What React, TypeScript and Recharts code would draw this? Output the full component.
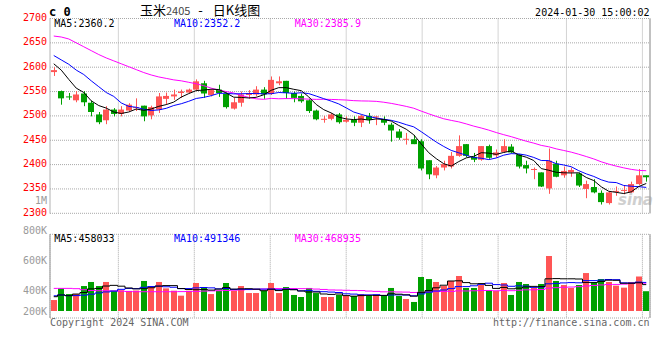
import React from 'react';
import { ComposedChart, Bar, Line, XAxis, YAxis, CartesianGrid, ReferenceLine } from 'recharts';

const DATES = [
  '10-10','10-11','10-12','10-13','10-16','10-17','10-18','10-19','10-20','10-23',
  '10-24','10-25','10-26','10-27','10-30','10-31','11-01','11-02','11-03','11-06',
  '11-07','11-08','11-09','11-10','11-13','11-14','11-15','11-16','11-17','11-20',
  '11-21','11-22','11-23','11-24','11-27','11-28','11-29','11-30','12-01','12-04',
  '12-05','12-06','12-07','12-08','12-11','12-12','12-13','12-14','12-15','12-18',
  '12-19','12-20','12-21','12-22','12-25','12-26','12-27','12-28','12-29','01-02',
  '01-03','01-04','01-05','01-08','01-09','01-10','01-11','01-12','01-15','01-16',
  '01-17','01-18','01-19','01-22','01-23','01-24','01-25','01-26','01-29','01-30',
];

const OPEN = [
  2590,2551,2540,2532,2546,2527,2503,2491,2513,2504,
  2511,2517,2521,2501,2513,2535,2540,2547,2548,2554,
  2567,2543,2554,2545,2515,2527,2543,2544,2554,2545,
  2567,2572,2547,2541,2532,2511,2493,2494,2503,2488,
  2492,2486,2500,2498,2493,2482,2468,2452,2452,2448,
  2409,2378,2394,2396,2418,2442,2416,2410,2438,2419,
  2426,2437,2421,2399,2390,2384,2351,2402,2378,2384,
  2382,2350,2354,2342,2321,2345,2347,2343,2360,2378,
];
const HIGH = [
  2600,2552,2547,2551,2551,2531,2508,2520,2516,2520,
  2526,2536,2521,2521,2547,2548,2554,2554,2556,2575,
  2572,2555,2564,2548,2537,2550,2553,2561,2559,2581,
  2581,2572,2550,2546,2535,2513,2500,2506,2506,2499,
  2499,2502,2506,2500,2499,2486,2473,2465,2461,2452,
  2409,2397,2408,2426,2460,2442,2424,2438,2441,2431,
  2452,2442,2421,2408,2394,2384,2433,2408,2396,2394,
  2384,2367,2370,2347,2344,2355,2358,2365,2391,2378,
];
const LOW = [
  2582,2523,2533,2528,2520,2499,2483,2483,2499,2499,
  2509,2510,2489,2493,2506,2523,2533,2537,2547,2551,
  2537,2540,2539,2515,2513,2519,2535,2540,2535,2543,
  2563,2535,2528,2527,2506,2491,2486,2491,2484,2486,
  2479,2477,2484,2481,2481,2447,2451,2441,2442,2388,
  2370,2372,2388,2392,2416,2415,2405,2408,2412,2414,
  2424,2423,2392,2382,2370,2354,2340,2374,2373,2375,
  2354,2331,2341,2318,2318,2336,2339,2342,2358,2365,
];
const CLOSE = [
  2594,2536,2539,2544,2528,2508,2487,2513,2504,2513,
  2523,2518,2499,2518,2540,2541,2544,2550,2554,2571,
  2546,2553,2547,2518,2528,2544,2547,2554,2544,2574,
  2571,2547,2537,2530,2510,2493,2494,2503,2487,2492,
  2486,2500,2492,2499,2486,2470,2455,2453,2442,2392,
  2380,2394,2401,2418,2438,2418,2410,2438,2414,2425,
  2438,2425,2396,2392,2391,2355,2408,2375,2387,2389,
  2357,2360,2343,2323,2343,2346,2348,2360,2378,2374,
];
const VOLUME = [
  308000,423000,367000,367000,446000,486000,446000,486000,400000,405000,
  398000,402000,496000,446000,486000,423000,400000,351000,400000,476000,
  436000,367000,400000,476000,400000,446000,377000,377000,400000,476000,
  377000,436000,358000,338000,427000,377000,338000,338000,358000,348000,
  348000,367000,348000,358000,348000,427000,348000,318000,289000,535000,
  515000,486000,446000,496000,545000,427000,427000,456000,407000,397000,
  476000,358000,486000,466000,427000,466000,742000,496000,456000,427000,
  456000,574000,486000,515000,486000,450000,430000,485000,540000,395000,
];

// moving-average values at the start of the window
const MA5_HEAD = [2607, 2594, 2575, 2557];
const MA10_HEAD = [2624, 2615, 2606, 2594, 2585, 2572, 2560, 2548, 2540];
const MA30_HEAD = [
  2664,2662,2658,2650,2642,2634,2626,2619,2613,2607,
  2601,2595,2589,2584,2580,2577,2574,2572,2569,2566,
  2562,2557,2553,2550,2547,2542,2538,2535,2534,
];
const VMA5_HEAD = [341000, 358000, 351000, 367000];
const VMA10_HEAD = [350000, 358000, 352000, 352000, 356000, 366000, 378000, 388000, 396000];
const VMA30_HEAD = [
  423000,423000,423000,420000,410000,402000,400000,400000,398000,395000,
  392000,390000,390000,390000,390000,390000,390000,391000,392000,393000,
  396000,398000,400000,402000,405000,408000,411000,414000,417000,
];

const PRICE_TICKS = [2300, 2350, 2400, 2450, 2500, 2550, 2600, 2650, 2700];
const VOL_LABEL_TICKS = [200000, 400000, 600000, 800000, 1000000];
const DATE_TICKS = [0, 9, 19, 29, 39, 49, 59, 68, 78];
const PRICE_LEGEND = ['MA5:2360.2', 'MA10:2352.2', 'MA30:2385.9'];
const VOL_LEGEND = ['MA5:458033', 'MA10:491346', 'MA30:468935'];
const CODE = 'c 0';
const TITLE_NAME = '玉米';
const TITLE_CONTRACT = '2405';
const TITLE_KIND = '日K线图';
const TIMESTAMP = '2024-01-30 15:00:02';
const COPYRIGHT = 'Copyright 2024 SINA.COM';
const URL_TEXT = 'http://finance.sina.com.cn';
const WATERMARK = 'sina';

const VOL_BASE = 200000;

const MONO = "'DejaVu Sans Mono', 'Liberation Mono', monospace";
const CJK = "'Noto Sans CJK SC', 'Noto Sans', sans-serif";
const RED = '#FF5555';
const GREEN = '#00A000';
const LEGEND_COLORS = ['#000000', '#0000FF', '#FF00FF'];
const PLOT_RIGHT = 650;

function movingAverage(values: number[], n: number, head: number[]): number[] {
  return values.map((_, i) => {
    if (i < n - 1) return head[i];
    let s = 0;
    for (let k = i - n + 1; k <= i; k++) s += values[k];
    return s / n;
  });
}

const MA5 = movingAverage(CLOSE, 5, MA5_HEAD);
const MA10 = movingAverage(CLOSE, 10, MA10_HEAD);
const MA30 = movingAverage(CLOSE, 30, MA30_HEAD);
const VMA5 = movingAverage(VOLUME, 5, VMA5_HEAD);
const VMA10 = movingAverage(VOLUME, 10, VMA10_HEAD);
const VMA30 = movingAverage(VOLUME, 30, VMA30_HEAD);

const rows = DATES.map((d, i) => ({
  i,
  d,
  o: OPEN[i],
  h: HIGH[i],
  l: LOW[i],
  c: CLOSE[i],
  vol: VOLUME[i],
  ma5: MA5[i],
  ma10: MA10[i],
  ma30: MA30[i],
  vma5: VMA5[i],
  vma10: VMA10[i],
  vma30: VMA30[i],
}));

function Candle(props: any) {
  const { x, y, width, height, payload } = props;
  if (x == null || y == null || !payload) return null;
  const { o, h, l, c } = payload;
  const color = c >= o ? RED : GREEN;
  const k = h > l ? height / (h - l) : 0;
  const py = (v: number) => y + (h - v) * k;
  const top = py(Math.max(o, c));
  const bot = py(Math.min(o, c));
  const rx = Math.round(x);
  const cx = rx + Math.floor(width / 2) + 0.5;
  return (
    <g>
      <line x1={cx} x2={cx} y1={y} y2={y + height} stroke={color} strokeWidth={1} />
      <rect x={rx} y={top} width={width} height={Math.max(1, bot - top)} fill={color} />
    </g>
  );
}

function VolBar(props: any) {
  const { x, y, width, height, payload } = props;
  if (x == null || y == null || !payload) return null;
  const color = payload.c >= payload.o ? RED : GREEN;
  return <rect x={Math.round(x)} y={y} width={width} height={Math.max(0, height)} fill={color} />;
}

function PriceTick(p: any) {
  return (
    <text x={p.x} y={p.y + 2.3} textAnchor="end" fill="#FF0000" fontSize={10} fontFamily={MONO}>
      {p.payload.value}
    </text>
  );
}

function DateTick(p: any) {
  const label = DATES[p.payload.value] ?? '';
  const half = label.length * 3;
  const atEnd = p.x + half > PLOT_RIGHT;
  return (
    <text
      x={atEnd ? PLOT_RIGHT - 1 : p.x}
      y={p.y + 11.5}
      textAnchor={atEnd ? 'end' : 'middle'}
      fill="#0080C0"
      fontSize={10}
      fontFamily={MONO}
    >
      {label}
    </text>
  );
}

function VolTick(p: any) {
  const v = p.payload.value;
  const label = v >= 1000000 ? v / 1000000 + 'M' : v / 1000 + 'K';
  const y = Math.min(p.y, 121);
  return (
    <text x={p.x} y={y + 3.6} textAnchor="end" fill="#9A9A9A" fontSize={10} fontFamily={MONO}>
      {label}
    </text>
  );
}

const GRID_STROKE = '#A8A8A8';
const BORDER = '#999999';

export default function App() {
  return (
    <div style={{ position: 'absolute', left: 0, top: 0, width: 660, height: 360, background: '#fff', overflow: 'hidden' }}>
      {/* watermark behind the candles */}
      <svg width={660} height={360} style={{ position: 'absolute', left: 0, top: 0 }}>
        <text x={618} y={205} fontSize={15} fontStyle="italic" fontWeight="bold" fill="#CFCFCF" fontFamily="'DejaVu Sans', sans-serif">
          {WATERMARK}
        </text>
      </svg>

      {/* volume axis labels */}
      <div style={{ position: 'absolute', left: 0, top: 190 }}>
        <ComposedChart width={48} height={150} data={rows} margin={{ top: 0, right: 1, bottom: 0, left: 0 }}>
          <XAxis dataKey="d" hide />
          <YAxis
            domain={[72900, 1067600]}
            ticks={VOL_LABEL_TICKS}
            interval={0}
            allowDataOverflow
            width={47}
            tickLine={false}
            tickSize={0}
            tickMargin={0}
            axisLine={false}
            tick={(p: any) => <VolTick {...p} />}
          />
          <Line dataKey="vol" stroke="none" dot={false} activeDot={false} isAnimationActive={false} />
        </ComposedChart>
      </div>

      {/* volume panel */}
      <div style={{ position: 'absolute', left: 0, top: 230 }}>
        <ComposedChart width={660} height={100} data={rows} margin={{ top: 4.3, right: 0, bottom: 12, left: 0 }} barCategoryGap="10%">
          <CartesianGrid xAxisId="g" yAxisId="q" stroke={GRID_STROKE} strokeDasharray="1 1" />
          <XAxis xAxisId="c" dataKey="d" type="category" hide />
          <XAxis xAxisId="g" dataKey="i" type="number" domain={[0, 79]} ticks={DATE_TICKS} interval={0} allowDataOverflow hide />
          <YAxis yAxisId="v" domain={[131000, 956000]} allowDataOverflow hide />
          <YAxis yAxisId="q" domain={[0, 4]} ticks={[0, 1, 2, 3, 4]} interval={0} width={50} tick={false} tickLine={false} axisLine={{ stroke: BORDER }} />
          <YAxis yAxisId="r" orientation="right" width={10} domain={[0, 1]} tick={false} tickLine={false} axisLine={{ stroke: BORDER }} />
          <ReferenceLine xAxisId="g" yAxisId="q" y={0} stroke={BORDER} />
          <Bar xAxisId="c" yAxisId="v" dataKey={(r: any) => [VOL_BASE, r.vol]} shape={(p: any) => <VolBar {...p} />} isAnimationActive={false} />
          <Line xAxisId="c" yAxisId="v" type="step" dataKey="vma30" stroke="#FF00FF" strokeWidth={1} dot={false} activeDot={false} isAnimationActive={false} />
          <Line xAxisId="c" yAxisId="v" type="step" dataKey="vma10" stroke="#0000FF" strokeWidth={1} dot={false} activeDot={false} isAnimationActive={false} />
          <Line xAxisId="c" yAxisId="v" type="step" dataKey="vma5" stroke="#000000" strokeWidth={1} dot={false} activeDot={false} isAnimationActive={false} />
        </ComposedChart>
      </div>

      {/* price panel */}
      <div style={{ position: 'absolute', left: 0, top: 0 }}>
        <ComposedChart width={660} height={230} data={rows} margin={{ top: 18.5, right: 0, bottom: 0, left: 0 }} barCategoryGap="10%">
          <CartesianGrid xAxisId="g" yAxisId="p" stroke={GRID_STROKE} strokeDasharray="1 1" />
          <XAxis xAxisId="c" dataKey="d" type="category" hide />
          <XAxis
            xAxisId="g"
            dataKey="i"
            type="number"
            domain={[0, 79]}
            ticks={DATE_TICKS}
            interval={0}
            allowDataOverflow
            height={16.7}
            tickLine={false}
            tickSize={0}
            tickMargin={0}
            axisLine={{ stroke: BORDER }}
            tick={(p: any) => <DateTick {...p} />}
          />
          <YAxis
            yAxisId="p"
            domain={[2300, 2700]}
            ticks={PRICE_TICKS}
            interval={0}
            allowDataOverflow
            width={50}
            tickLine={false}
            tickSize={0}
            tickMargin={3}
            axisLine={{ stroke: GRID_STROKE, strokeDasharray: '1 1' }}
            tick={(p: any) => <PriceTick {...p} />}
          />
          <YAxis yAxisId="r" orientation="right" width={10} domain={[0, 1]} tick={false} tickLine={false} axisLine={{ stroke: BORDER }} />
          <Bar xAxisId="c" yAxisId="p" dataKey={(r: any) => [r.l, r.h]} shape={(p: any) => <Candle {...p} />} isAnimationActive={false} />
          <Line xAxisId="c" yAxisId="p" dataKey="ma30" stroke="#FF00FF" strokeWidth={1} dot={false} activeDot={false} isAnimationActive={false} />
          <Line xAxisId="c" yAxisId="p" dataKey="ma10" stroke="#0000FF" strokeWidth={1} dot={false} activeDot={false} isAnimationActive={false} />
          <Line xAxisId="c" yAxisId="p" dataKey="ma5" stroke="#000000" strokeWidth={1} dot={false} activeDot={false} isAnimationActive={false} />
        </ComposedChart>
      </div>

      {/* texts */}
      <svg width={660} height={360} style={{ position: 'absolute', left: 0, top: 0, pointerEvents: 'none' }}>
        <text x={49} y={15.5} fontFamily={MONO} fontWeight="bold" fontSize={12} fill="#000">{CODE}</text>
        <text x={140} y={15} fontFamily={CJK} fontSize={13} fill="#000">
          {TITLE_NAME}
          <tspan fontSize={11} fill="#444">{TITLE_CONTRACT}</tspan>
          <tspan dx={5}>{' - '}</tspan>
          <tspan dx={7}>{TITLE_KIND}</tspan>
        </text>
        <text x={649.5} y={15.5} textAnchor="end" fontFamily={MONO} fontSize={10} fill="#000">{TIMESTAMP}</text>

        <text x={54.3} y={27} fontFamily={MONO} fontSize={10} fill={LEGEND_COLORS[0]}>{PRICE_LEGEND[0]}</text>
        <text x={174} y={27} fontFamily={MONO} fontSize={10} fill={LEGEND_COLORS[1]}>{PRICE_LEGEND[1]}</text>
        <text x={294.7} y={27} fontFamily={MONO} fontSize={10} fill={LEGEND_COLORS[2]}>{PRICE_LEGEND[2]}</text>

        <text x={54.3} y={241.7} fontFamily={MONO} fontSize={10} fill={LEGEND_COLORS[0]}>{VOL_LEGEND[0]}</text>
        <text x={174} y={241.7} fontFamily={MONO} fontSize={10} fill={LEGEND_COLORS[1]}>{VOL_LEGEND[1]}</text>
        <text x={294.7} y={241.7} fontFamily={MONO} fontSize={10} fill={LEGEND_COLORS[2]}>{VOL_LEGEND[2]}</text>

        <text x={50} y={325.5} fontFamily={MONO} fontSize={10} fill="#666">{COPYRIGHT}</text>
        <text x={649.5} y={325.5} textAnchor="end" fontFamily={MONO} fontSize={10} fill="#666">{URL_TEXT}</text>
      </svg>
    </div>
  );
}
